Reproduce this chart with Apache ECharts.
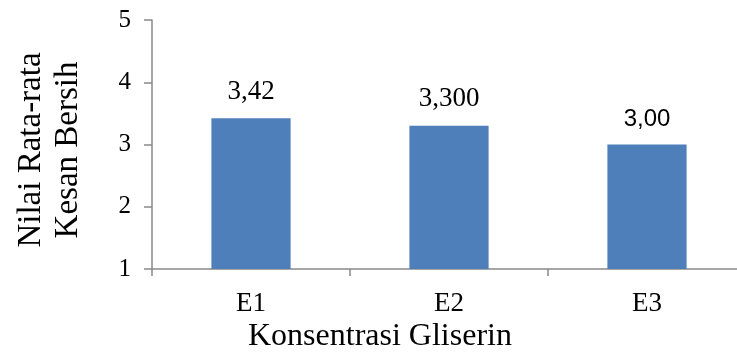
<!DOCTYPE html>
<html>
<head>
<meta charset="utf-8">
<script src="https://cdn.jsdelivr.net/npm/echarts@6/dist/echarts.min.js"></script>
<style>
  html, body { margin: 0; padding: 0; background: #fff; }
  #chart { width: 737px; height: 352px; }
</style>
</head>
<body>
<div id="chart"></div>
<script>
// Mean "clean feel" score per glycerin concentration
const categories = ['E1', 'E2', 'E3'];
const meanScores = [3.42, 3.3, 3.0];
const scoreLabels = ['3,42', '3,300', '3,00'];
const yTicks = [1, 2, 3, 4, 5];

const serif = '"Liberation Serif", "Times New Roman", serif';
const sans = '"Liberation Sans", Arial, sans-serif';
const axisGrey = '#898989';

const chart = echarts.init(document.getElementById('chart'), null, { renderer: 'canvas' });

const barData = meanScores.map((v, i) => ({
  value: v,
  label: {
    formatter: scoreLabels[i],
    fontFamily: i === 2 ? sans : serif,
    fontSize: i === 2 ? 24 : 27
  }
}));

chart.setOption({
  animation: false,
  backgroundColor: '#ffffff',
  // plot runs slightly past the right edge of the canvas
  grid: { left: 152, top: 20, right: -9, bottom: 83, containLabel: false, outerBoundsMode: 'none' },
  xAxis: {
    type: 'category',
    data: categories,
    boundaryGap: true,
    axisLine: { lineStyle: { color: axisGrey, width: 1.5 } },
    axisTick: { show: true, length: 7, inside: false, lineStyle: { color: axisGrey, width: 1.5 } },
    axisLabel: { margin: 21, color: '#000', fontFamily: serif, fontSize: 27 },
    splitLine: { show: false }
  },
  yAxis: {
    type: 'value',
    min: yTicks[0],
    max: yTicks[yTicks.length - 1],
    interval: 1,
    name: 'Nilai Rata-rata\nKesan Bersih',
    nameLocation: 'middle',
    nameRotate: 90,
    nameGap: 65,
    nameTextStyle: { color: '#000', fontFamily: serif, fontSize: 33, lineHeight: 37, padding: [0, 11, 0, 0] },
    axisLine: { show: true, lineStyle: { color: axisGrey, width: 1.5 } },
    axisTick: { show: true, length: 8, inside: false, lineStyle: { color: axisGrey, width: 1.5 } },
    axisLabel: { margin: 21, color: '#000', fontFamily: serif, fontSize: 25 },
    splitLine: { show: false }
  },
  graphic: [{
    type: 'text',
    left: 248,
    top: 321,
    style: { text: 'Konsentrasi Gliserin', fill: '#000', font: '32px ' + serif }
  }],
  series: [{
    type: 'bar',
    data: barData,
    barWidth: '40%',
    itemStyle: { color: '#4e7fbb' },
    label: { show: true, position: 'top', distance: 13, color: '#000' }
  }]
});
</script>
</body>
</html>
